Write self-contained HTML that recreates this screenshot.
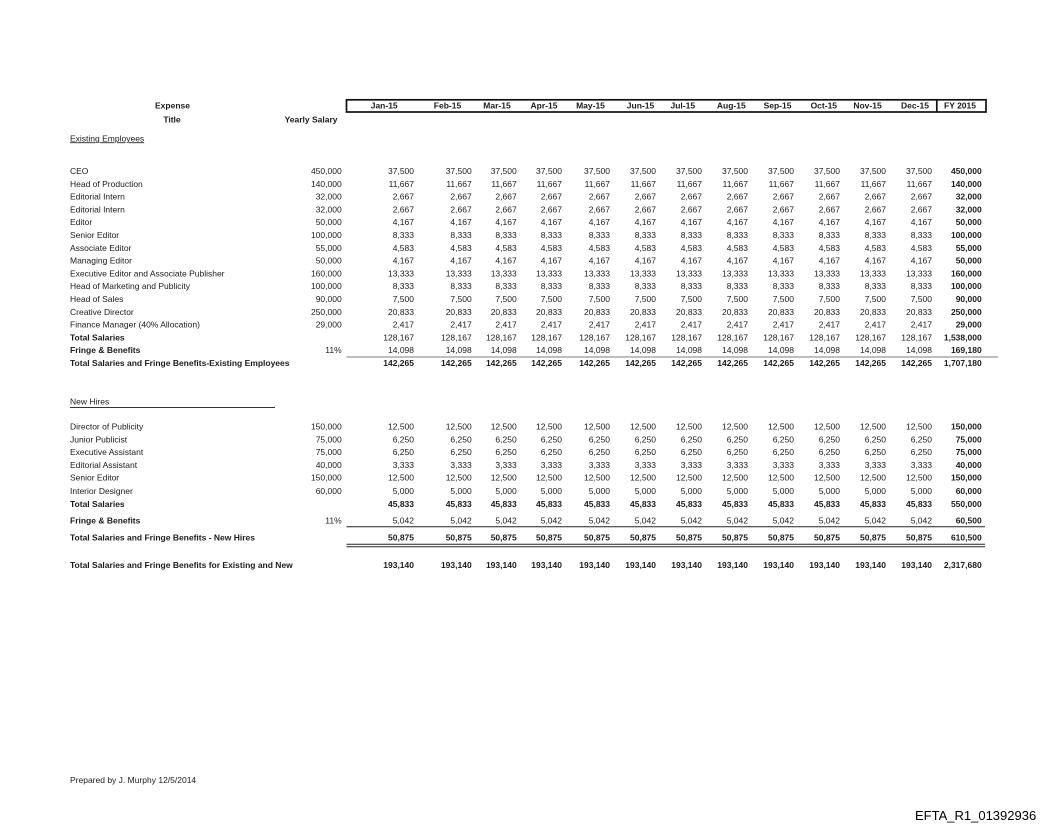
<!DOCTYPE html>
<html>
<head>
<meta charset="utf-8">
<style>
html,body{margin:0;padding:0;background:#fff;}
svg{display:block;}
text{font-family:"Liberation Sans",Arial,sans-serif;font-size:8.5px;fill:#1c1c1c;}
.b{font-weight:bold;}
.e{text-anchor:end;}
.m{text-anchor:middle;}
</style>
</head>
<body>
<svg width="1056" height="833" viewBox="0 0 1056 833" xmlns="http://www.w3.org/2000/svg">
<!-- header -->
<text class="b m" x="172.5" y="108.7">Expense</text>
<text class="b m" x="172" y="122.3">Title</text>
<text class="b e" x="337.5" y="122.3">Yearly Salary</text>
<rect x="346.5" y="99.8" width="639.5" height="12.2" fill="none" stroke="#111" stroke-width="1.7"/>
<line x1="936.8" y1="99.8" x2="936.8" y2="112" stroke="#111" stroke-width="1.7"/>
<g class="b">
<text class="m" x="384.2" y="108.7">Jan-15</text>
<text class="m" x="447.5" y="108.7">Feb-15</text>
<text class="m" x="497" y="108.7">Mar-15</text>
<text class="m" x="544" y="108.7">Apr-15</text>
<text class="m" x="590.5" y="108.7">May-15</text>
<text class="m" x="640.5" y="108.7">Jun-15</text>
<text class="m" x="682.8" y="108.7">Jul-15</text>
<text class="m" x="731.3" y="108.7">Aug-15</text>
<text class="m" x="777.5" y="108.7">Sep-15</text>
<text class="m" x="823.8" y="108.7">Oct-15</text>
<text class="m" x="867.5" y="108.7">Nov-15</text>
<text class="m" x="915" y="108.7">Dec-15</text>
<text class="m" x="960" y="108.7">FY 2015</text>
</g>

<text x="70" y="141.3" text-decoration="underline">Existing Employees</text>

<!-- Row template: label at 70, YS at 341.7, months, FY at 981.7 -->
<g id="r0">
<text x="70" y="174">CEO</text>
<text class="e" x="341.7" y="174">450,000</text>
<text class="e" x="414" y="174">37,500</text><text class="e" x="471.7" y="174">37,500</text><text class="e" x="516.7" y="174">37,500</text><text class="e" x="562" y="174">37,500</text><text class="e" x="610" y="174">37,500</text><text class="e" x="656" y="174">37,500</text><text class="e" x="702" y="174">37,500</text><text class="e" x="748" y="174">37,500</text><text class="e" x="794" y="174">37,500</text><text class="e" x="840" y="174">37,500</text><text class="e" x="886" y="174">37,500</text><text class="e" x="932" y="174">37,500</text>
<text class="e b" x="981.7" y="174">450,000</text>
</g>
<g>
<text x="70" y="186.8">Head of Production</text>
<text class="e" x="341.7" y="186.8">140,000</text>
<text class="e" x="414" y="186.8">11,667</text><text class="e" x="471.7" y="186.8">11,667</text><text class="e" x="516.7" y="186.8">11,667</text><text class="e" x="562" y="186.8">11,667</text><text class="e" x="610" y="186.8">11,667</text><text class="e" x="656" y="186.8">11,667</text><text class="e" x="702" y="186.8">11,667</text><text class="e" x="748" y="186.8">11,667</text><text class="e" x="794" y="186.8">11,667</text><text class="e" x="840" y="186.8">11,667</text><text class="e" x="886" y="186.8">11,667</text><text class="e" x="932" y="186.8">11,667</text>
<text class="e b" x="981.7" y="186.8">140,000</text>
</g>
<g>
<text x="70" y="199.6">Editorial Intern</text>
<text class="e" x="341.7" y="199.6">32,000</text>
<text class="e" x="414" y="199.6">2,667</text><text class="e" x="471.7" y="199.6">2,667</text><text class="e" x="516.7" y="199.6">2,667</text><text class="e" x="562" y="199.6">2,667</text><text class="e" x="610" y="199.6">2,667</text><text class="e" x="656" y="199.6">2,667</text><text class="e" x="702" y="199.6">2,667</text><text class="e" x="748" y="199.6">2,667</text><text class="e" x="794" y="199.6">2,667</text><text class="e" x="840" y="199.6">2,667</text><text class="e" x="886" y="199.6">2,667</text><text class="e" x="932" y="199.6">2,667</text>
<text class="e b" x="981.7" y="199.6">32,000</text>
</g>
<g>
<text x="70" y="212.4">Editorial Intern</text>
<text class="e" x="341.7" y="212.4">32,000</text>
<text class="e" x="414" y="212.4">2,667</text><text class="e" x="471.7" y="212.4">2,667</text><text class="e" x="516.7" y="212.4">2,667</text><text class="e" x="562" y="212.4">2,667</text><text class="e" x="610" y="212.4">2,667</text><text class="e" x="656" y="212.4">2,667</text><text class="e" x="702" y="212.4">2,667</text><text class="e" x="748" y="212.4">2,667</text><text class="e" x="794" y="212.4">2,667</text><text class="e" x="840" y="212.4">2,667</text><text class="e" x="886" y="212.4">2,667</text><text class="e" x="932" y="212.4">2,667</text>
<text class="e b" x="981.7" y="212.4">32,000</text>
</g>
<g>
<text x="70" y="225.2">Editor</text>
<text class="e" x="341.7" y="225.2">50,000</text>
<text class="e" x="414" y="225.2">4,167</text><text class="e" x="471.7" y="225.2">4,167</text><text class="e" x="516.7" y="225.2">4,167</text><text class="e" x="562" y="225.2">4,167</text><text class="e" x="610" y="225.2">4,167</text><text class="e" x="656" y="225.2">4,167</text><text class="e" x="702" y="225.2">4,167</text><text class="e" x="748" y="225.2">4,167</text><text class="e" x="794" y="225.2">4,167</text><text class="e" x="840" y="225.2">4,167</text><text class="e" x="886" y="225.2">4,167</text><text class="e" x="932" y="225.2">4,167</text>
<text class="e b" x="981.7" y="225.2">50,000</text>
</g>
<g>
<text x="70" y="238">Senior Editor</text>
<text class="e" x="341.7" y="238">100,000</text>
<text class="e" x="414" y="238">8,333</text><text class="e" x="471.7" y="238">8,333</text><text class="e" x="516.7" y="238">8,333</text><text class="e" x="562" y="238">8,333</text><text class="e" x="610" y="238">8,333</text><text class="e" x="656" y="238">8,333</text><text class="e" x="702" y="238">8,333</text><text class="e" x="748" y="238">8,333</text><text class="e" x="794" y="238">8,333</text><text class="e" x="840" y="238">8,333</text><text class="e" x="886" y="238">8,333</text><text class="e" x="932" y="238">8,333</text>
<text class="e b" x="981.7" y="238">100,000</text>
</g>
<g>
<text x="70" y="250.8">Associate Editor</text>
<text class="e" x="341.7" y="250.8">55,000</text>
<text class="e" x="414" y="250.8">4,583</text><text class="e" x="471.7" y="250.8">4,583</text><text class="e" x="516.7" y="250.8">4,583</text><text class="e" x="562" y="250.8">4,583</text><text class="e" x="610" y="250.8">4,583</text><text class="e" x="656" y="250.8">4,583</text><text class="e" x="702" y="250.8">4,583</text><text class="e" x="748" y="250.8">4,583</text><text class="e" x="794" y="250.8">4,583</text><text class="e" x="840" y="250.8">4,583</text><text class="e" x="886" y="250.8">4,583</text><text class="e" x="932" y="250.8">4,583</text>
<text class="e b" x="981.7" y="250.8">55,000</text>
</g>
<g>
<text x="70" y="263.6">Managing Editor</text>
<text class="e" x="341.7" y="263.6">50,000</text>
<text class="e" x="414" y="263.6">4,167</text><text class="e" x="471.7" y="263.6">4,167</text><text class="e" x="516.7" y="263.6">4,167</text><text class="e" x="562" y="263.6">4,167</text><text class="e" x="610" y="263.6">4,167</text><text class="e" x="656" y="263.6">4,167</text><text class="e" x="702" y="263.6">4,167</text><text class="e" x="748" y="263.6">4,167</text><text class="e" x="794" y="263.6">4,167</text><text class="e" x="840" y="263.6">4,167</text><text class="e" x="886" y="263.6">4,167</text><text class="e" x="932" y="263.6">4,167</text>
<text class="e b" x="981.7" y="263.6">50,000</text>
</g>
<g>
<text x="70" y="276.4">Executive Editor and Associate Publisher</text>
<text class="e" x="341.7" y="276.4">160,000</text>
<text class="e" x="414" y="276.4">13,333</text><text class="e" x="471.7" y="276.4">13,333</text><text class="e" x="516.7" y="276.4">13,333</text><text class="e" x="562" y="276.4">13,333</text><text class="e" x="610" y="276.4">13,333</text><text class="e" x="656" y="276.4">13,333</text><text class="e" x="702" y="276.4">13,333</text><text class="e" x="748" y="276.4">13,333</text><text class="e" x="794" y="276.4">13,333</text><text class="e" x="840" y="276.4">13,333</text><text class="e" x="886" y="276.4">13,333</text><text class="e" x="932" y="276.4">13,333</text>
<text class="e b" x="981.7" y="276.4">160,000</text>
</g>
<g>
<text x="70" y="289.2">Head of Marketing and Publicity</text>
<text class="e" x="341.7" y="289.2">100,000</text>
<text class="e" x="414" y="289.2">8,333</text><text class="e" x="471.7" y="289.2">8,333</text><text class="e" x="516.7" y="289.2">8,333</text><text class="e" x="562" y="289.2">8,333</text><text class="e" x="610" y="289.2">8,333</text><text class="e" x="656" y="289.2">8,333</text><text class="e" x="702" y="289.2">8,333</text><text class="e" x="748" y="289.2">8,333</text><text class="e" x="794" y="289.2">8,333</text><text class="e" x="840" y="289.2">8,333</text><text class="e" x="886" y="289.2">8,333</text><text class="e" x="932" y="289.2">8,333</text>
<text class="e b" x="981.7" y="289.2">100,000</text>
</g>
<g>
<text x="70" y="302">Head of Sales</text>
<text class="e" x="341.7" y="302">90,000</text>
<text class="e" x="414" y="302">7,500</text><text class="e" x="471.7" y="302">7,500</text><text class="e" x="516.7" y="302">7,500</text><text class="e" x="562" y="302">7,500</text><text class="e" x="610" y="302">7,500</text><text class="e" x="656" y="302">7,500</text><text class="e" x="702" y="302">7,500</text><text class="e" x="748" y="302">7,500</text><text class="e" x="794" y="302">7,500</text><text class="e" x="840" y="302">7,500</text><text class="e" x="886" y="302">7,500</text><text class="e" x="932" y="302">7,500</text>
<text class="e b" x="981.7" y="302">90,000</text>
</g>
<g>
<text x="70" y="314.8">Creative Director</text>
<text class="e" x="341.7" y="314.8">250,000</text>
<text class="e" x="414" y="314.8">20,833</text><text class="e" x="471.7" y="314.8">20,833</text><text class="e" x="516.7" y="314.8">20,833</text><text class="e" x="562" y="314.8">20,833</text><text class="e" x="610" y="314.8">20,833</text><text class="e" x="656" y="314.8">20,833</text><text class="e" x="702" y="314.8">20,833</text><text class="e" x="748" y="314.8">20,833</text><text class="e" x="794" y="314.8">20,833</text><text class="e" x="840" y="314.8">20,833</text><text class="e" x="886" y="314.8">20,833</text><text class="e" x="932" y="314.8">20,833</text>
<text class="e b" x="981.7" y="314.8">250,000</text>
</g>
<g>
<text x="70" y="327.6">Finance Manager (40% Allocation)</text>
<text class="e" x="341.7" y="327.6">29,000</text>
<text class="e" x="414" y="327.6">2,417</text><text class="e" x="471.7" y="327.6">2,417</text><text class="e" x="516.7" y="327.6">2,417</text><text class="e" x="562" y="327.6">2,417</text><text class="e" x="610" y="327.6">2,417</text><text class="e" x="656" y="327.6">2,417</text><text class="e" x="702" y="327.6">2,417</text><text class="e" x="748" y="327.6">2,417</text><text class="e" x="794" y="327.6">2,417</text><text class="e" x="840" y="327.6">2,417</text><text class="e" x="886" y="327.6">2,417</text><text class="e" x="932" y="327.6">2,417</text>
<text class="e b" x="981.7" y="327.6">29,000</text>
</g>
<g>
<text class="b" x="70" y="340.4">Total Salaries</text>
<text class="e" x="414" y="340.4">128,167</text><text class="e" x="471.7" y="340.4">128,167</text><text class="e" x="516.7" y="340.4">128,167</text><text class="e" x="562" y="340.4">128,167</text><text class="e" x="610" y="340.4">128,167</text><text class="e" x="656" y="340.4">128,167</text><text class="e" x="702" y="340.4">128,167</text><text class="e" x="748" y="340.4">128,167</text><text class="e" x="794" y="340.4">128,167</text><text class="e" x="840" y="340.4">128,167</text><text class="e" x="886" y="340.4">128,167</text><text class="e" x="932" y="340.4">128,167</text>
<text class="e b" x="981.7" y="340.4">1,538,000</text>
</g>
<g>
<text class="b" x="70" y="353.2">Fringe &amp; Benefits</text>
<text class="e" x="341.7" y="353.2">11%</text>
<text class="e" x="414" y="353.2">14,098</text><text class="e" x="471.7" y="353.2">14,098</text><text class="e" x="516.7" y="353.2">14,098</text><text class="e" x="562" y="353.2">14,098</text><text class="e" x="610" y="353.2">14,098</text><text class="e" x="656" y="353.2">14,098</text><text class="e" x="702" y="353.2">14,098</text><text class="e" x="748" y="353.2">14,098</text><text class="e" x="794" y="353.2">14,098</text><text class="e" x="840" y="353.2">14,098</text><text class="e" x="886" y="353.2">14,098</text><text class="e" x="932" y="353.2">14,098</text>
<text class="e b" x="981.7" y="353.2">169,180</text>
</g>
<line x1="346.5" y1="357" x2="998" y2="357" stroke="#999" stroke-width="1.3"/>
<g class="b">
<text x="70" y="366">Total Salaries and Fringe Benefits-Existing Employees</text>
<text class="e" x="414" y="366">142,265</text><text class="e" x="471.7" y="366">142,265</text><text class="e" x="516.7" y="366">142,265</text><text class="e" x="562" y="366">142,265</text><text class="e" x="610" y="366">142,265</text><text class="e" x="656" y="366">142,265</text><text class="e" x="702" y="366">142,265</text><text class="e" x="748" y="366">142,265</text><text class="e" x="794" y="366">142,265</text><text class="e" x="840" y="366">142,265</text><text class="e" x="886" y="366">142,265</text><text class="e" x="932" y="366">142,265</text>
<text class="e" x="981.7" y="366">1,707,180</text>
</g>

<!-- New hires -->
<text x="70" y="404.7">New Hires</text>
<line x1="70" y1="407.5" x2="275" y2="407.5" stroke="#333" stroke-width="0.9"/>

<g>
<text x="70" y="429.7">Director of Publicity</text>
<text class="e" x="341.7" y="429.7">150,000</text>
<text class="e" x="414" y="429.7">12,500</text><text class="e" x="471.7" y="429.7">12,500</text><text class="e" x="516.7" y="429.7">12,500</text><text class="e" x="562" y="429.7">12,500</text><text class="e" x="610" y="429.7">12,500</text><text class="e" x="656" y="429.7">12,500</text><text class="e" x="702" y="429.7">12,500</text><text class="e" x="748" y="429.7">12,500</text><text class="e" x="794" y="429.7">12,500</text><text class="e" x="840" y="429.7">12,500</text><text class="e" x="886" y="429.7">12,500</text><text class="e" x="932" y="429.7">12,500</text>
<text class="e b" x="981.7" y="429.7">150,000</text>
</g>
<g>
<text x="70" y="442.4">Junior Publicist</text>
<text class="e" x="341.7" y="442.4">75,000</text>
<text class="e" x="414" y="442.4">6,250</text><text class="e" x="471.7" y="442.4">6,250</text><text class="e" x="516.7" y="442.4">6,250</text><text class="e" x="562" y="442.4">6,250</text><text class="e" x="610" y="442.4">6,250</text><text class="e" x="656" y="442.4">6,250</text><text class="e" x="702" y="442.4">6,250</text><text class="e" x="748" y="442.4">6,250</text><text class="e" x="794" y="442.4">6,250</text><text class="e" x="840" y="442.4">6,250</text><text class="e" x="886" y="442.4">6,250</text><text class="e" x="932" y="442.4">6,250</text>
<text class="e b" x="981.7" y="442.4">75,000</text>
</g>
<g>
<text x="70" y="455.1">Executive Assistant</text>
<text class="e" x="341.7" y="455.1">75,000</text>
<text class="e" x="414" y="455.1">6,250</text><text class="e" x="471.7" y="455.1">6,250</text><text class="e" x="516.7" y="455.1">6,250</text><text class="e" x="562" y="455.1">6,250</text><text class="e" x="610" y="455.1">6,250</text><text class="e" x="656" y="455.1">6,250</text><text class="e" x="702" y="455.1">6,250</text><text class="e" x="748" y="455.1">6,250</text><text class="e" x="794" y="455.1">6,250</text><text class="e" x="840" y="455.1">6,250</text><text class="e" x="886" y="455.1">6,250</text><text class="e" x="932" y="455.1">6,250</text>
<text class="e b" x="981.7" y="455.1">75,000</text>
</g>
<g>
<text x="70" y="468">Editorial Assistant</text>
<text class="e" x="341.7" y="468">40,000</text>
<text class="e" x="414" y="468">3,333</text><text class="e" x="471.7" y="468">3,333</text><text class="e" x="516.7" y="468">3,333</text><text class="e" x="562" y="468">3,333</text><text class="e" x="610" y="468">3,333</text><text class="e" x="656" y="468">3,333</text><text class="e" x="702" y="468">3,333</text><text class="e" x="748" y="468">3,333</text><text class="e" x="794" y="468">3,333</text><text class="e" x="840" y="468">3,333</text><text class="e" x="886" y="468">3,333</text><text class="e" x="932" y="468">3,333</text>
<text class="e b" x="981.7" y="468">40,000</text>
</g>
<g>
<text x="70" y="480.7">Senior Editor</text>
<text class="e" x="341.7" y="480.7">150,000</text>
<text class="e" x="414" y="480.7">12,500</text><text class="e" x="471.7" y="480.7">12,500</text><text class="e" x="516.7" y="480.7">12,500</text><text class="e" x="562" y="480.7">12,500</text><text class="e" x="610" y="480.7">12,500</text><text class="e" x="656" y="480.7">12,500</text><text class="e" x="702" y="480.7">12,500</text><text class="e" x="748" y="480.7">12,500</text><text class="e" x="794" y="480.7">12,500</text><text class="e" x="840" y="480.7">12,500</text><text class="e" x="886" y="480.7">12,500</text><text class="e" x="932" y="480.7">12,500</text>
<text class="e b" x="981.7" y="480.7">150,000</text>
</g>
<g>
<text x="70" y="494">Interior Designer</text>
<text class="e" x="341.7" y="494">60,000</text>
<text class="e" x="414" y="494">5,000</text><text class="e" x="471.7" y="494">5,000</text><text class="e" x="516.7" y="494">5,000</text><text class="e" x="562" y="494">5,000</text><text class="e" x="610" y="494">5,000</text><text class="e" x="656" y="494">5,000</text><text class="e" x="702" y="494">5,000</text><text class="e" x="748" y="494">5,000</text><text class="e" x="794" y="494">5,000</text><text class="e" x="840" y="494">5,000</text><text class="e" x="886" y="494">5,000</text><text class="e" x="932" y="494">5,000</text>
<text class="e b" x="981.7" y="494">60,000</text>
</g>
<g class="b">
<text x="70" y="507">Total Salaries</text>
<text class="e" x="414" y="507">45,833</text><text class="e" x="471.7" y="507">45,833</text><text class="e" x="516.7" y="507">45,833</text><text class="e" x="562" y="507">45,833</text><text class="e" x="610" y="507">45,833</text><text class="e" x="656" y="507">45,833</text><text class="e" x="702" y="507">45,833</text><text class="e" x="748" y="507">45,833</text><text class="e" x="794" y="507">45,833</text><text class="e" x="840" y="507">45,833</text><text class="e" x="886" y="507">45,833</text><text class="e" x="932" y="507">45,833</text>
<text class="e" x="981.7" y="507">550,000</text>
</g>
<g>
<text class="b" x="70" y="523.7">Fringe &amp; Benefits</text>
<text class="e" x="341.7" y="523.7">11%</text>
<text class="e" x="414" y="523.7">5,042</text><text class="e" x="471.7" y="523.7">5,042</text><text class="e" x="516.7" y="523.7">5,042</text><text class="e" x="562" y="523.7">5,042</text><text class="e" x="610" y="523.7">5,042</text><text class="e" x="656" y="523.7">5,042</text><text class="e" x="702" y="523.7">5,042</text><text class="e" x="748" y="523.7">5,042</text><text class="e" x="794" y="523.7">5,042</text><text class="e" x="840" y="523.7">5,042</text><text class="e" x="886" y="523.7">5,042</text><text class="e" x="932" y="523.7">5,042</text>
<text class="e b" x="981.7" y="523.7">60,500</text>
</g>
<line x1="346.5" y1="526.8" x2="985" y2="526.8" stroke="#222" stroke-width="1"/>
<g class="b">
<text x="70" y="540.3">Total Salaries and Fringe Benefits - New Hires</text>
<text class="e" x="414" y="540.3">50,875</text><text class="e" x="471.7" y="540.3">50,875</text><text class="e" x="516.7" y="540.3">50,875</text><text class="e" x="562" y="540.3">50,875</text><text class="e" x="610" y="540.3">50,875</text><text class="e" x="656" y="540.3">50,875</text><text class="e" x="702" y="540.3">50,875</text><text class="e" x="748" y="540.3">50,875</text><text class="e" x="794" y="540.3">50,875</text><text class="e" x="840" y="540.3">50,875</text><text class="e" x="886" y="540.3">50,875</text><text class="e" x="932" y="540.3">50,875</text>
<text class="e" x="981.7" y="540.3">610,500</text>
</g>
<line x1="346.5" y1="544.3" x2="985" y2="544.3" stroke="#222" stroke-width="1"/>
<line x1="346.5" y1="546.8" x2="985" y2="546.8" stroke="#222" stroke-width="1"/>

<g class="b">
<text x="70" y="568">Total Salaries and Fringe Benefits for Existing and New</text>
<text class="e" x="414" y="568">193,140</text><text class="e" x="471.7" y="568">193,140</text><text class="e" x="516.7" y="568">193,140</text><text class="e" x="562" y="568">193,140</text><text class="e" x="610" y="568">193,140</text><text class="e" x="656" y="568">193,140</text><text class="e" x="702" y="568">193,140</text><text class="e" x="748" y="568">193,140</text><text class="e" x="794" y="568">193,140</text><text class="e" x="840" y="568">193,140</text><text class="e" x="886" y="568">193,140</text><text class="e" x="932" y="568">193,140</text>
<text class="e" x="981.7" y="568">2,317,680</text>
</g>

<text x="70" y="783">Prepared by J. Murphy 12/5/2014</text>
<text x="915" y="820" style="font-size:13px;fill:#000">EFTA_R1_01392936</text>
</svg>
</body>
</html>
